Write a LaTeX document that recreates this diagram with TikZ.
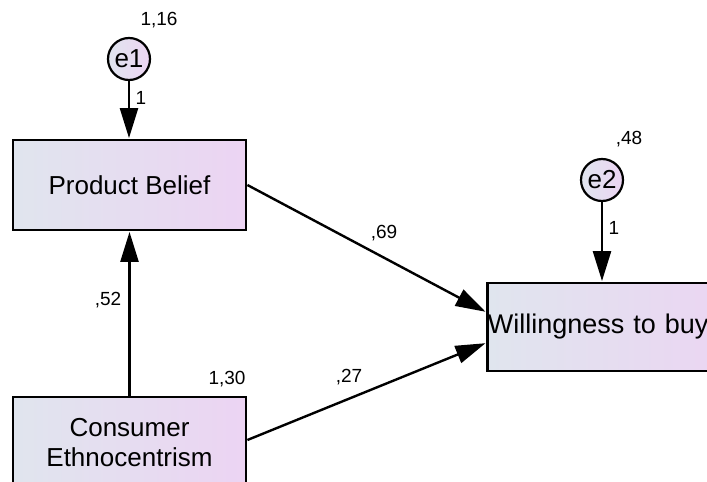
\documentclass[tikz,border=0pt]{standalone}
\usepackage{fontspec}
\setmainfont{Liberation Sans}
\usetikzlibrary{arrows.meta,calc}
\definecolor{fillL}{RGB}{224,229,238}
\definecolor{fillR}{RGB}{236,212,243}
\tikzset{
  obsbox/.style={draw=black, line width=2.8pt, left color=fillL, right color=fillR,
    font=\fontsize{26}{30}\selectfont, align=center, inner sep=0pt},
  errc/.style={circle, draw=black, line width=2.2pt, left color=fillL, right color=fillR,
    minimum size=42pt, inner sep=0pt, font=\fontsize{26}{30}\selectfont},
  lbl/.style={font=\fontsize{19}{22}\selectfont, inner sep=0pt},
  path/.style={line width=2.4pt, draw=black, -{Triangle[length=30pt,width=18pt]}, shorten >=0.5pt}
}
\begin{document}
\begin{tikzpicture}[x=1pt,y=-1pt]
\useasboundingbox (0,0) rectangle (707,482);
\fill[white] (0,0) rectangle (707,482);
% nodes
\node[obsbox, minimum width=233pt, minimum height=90pt] (pb) at (129.5,185) {Product Belief};
\node[obsbox, minimum width=233pt, minimum height=92pt] (ce) at (129.5,443) {Consumer\\Ethnocentrism};
\node[obsbox, anchor=west, minimum height=88pt, text width=260pt, inner xsep=0.5pt, align=left, font=\fontsize{27}{30}\selectfont] (wtb) at (486,327) {Willingness to buy};
\node[errc] (e1) at (129,59) {e1};
\node[errc] (e2) at (602,180) {e2};
% connectors
\draw[path] (e1) -- (pb.north -| e1);
\draw[path] (e2) -- (wtb.north -| e2);
\draw[path] (ce) -- (pb);
\draw[path] (pb.east) -- ([yshift=15pt]wtb.west);
\draw[path] ([yshift=3pt]ce.east) -- ([yshift=-16pt]wtb.west);
% labels
\node[lbl] (l116) at (159,20) {1,16};
\node[lbl] (l1a) at (141,98) {1};
\node[lbl] (l48) at (629,139) {,48};
\node[lbl] (l1b) at (614,228) {1};
\node[lbl] (l69) at (384,233) {,69};
\node[lbl] (l52) at (108,300) {,52};
\node[lbl] (l27) at (349,377) {,27};
\node[lbl] (l130) at (227,379) {1,30};
\end{tikzpicture}
\end{document}
